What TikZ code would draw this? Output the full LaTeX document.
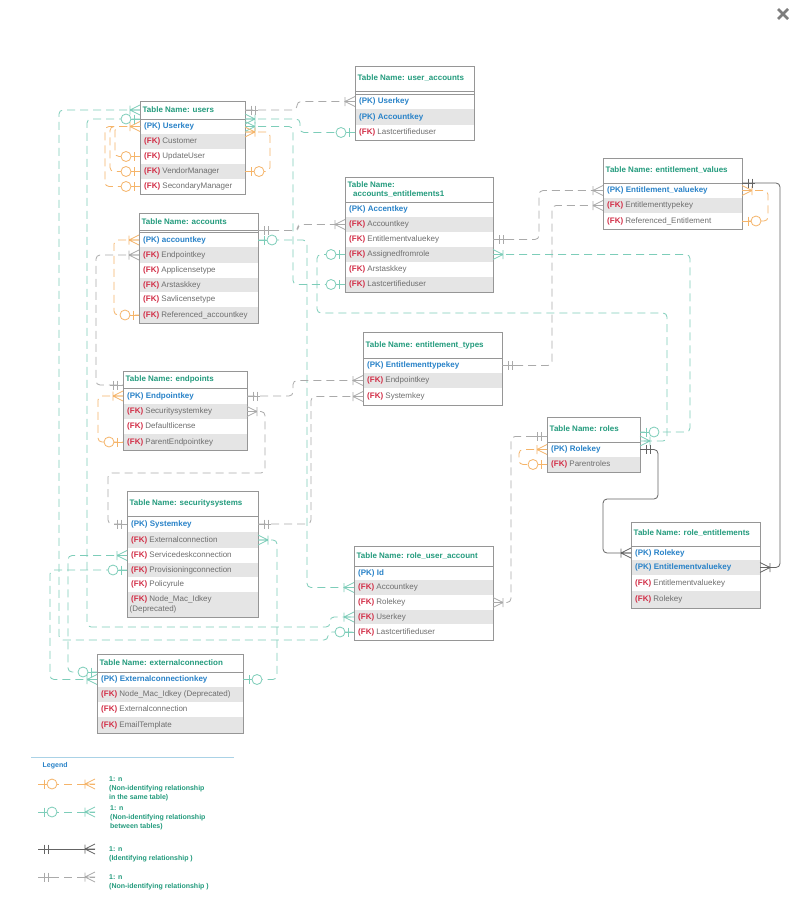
\documentclass[tikz,border=0pt]{standalone}
\usepackage{fontspec}
\setmainfont{Liberation Sans}
\definecolor{ttl}{RGB}{35,155,125}
\definecolor{pkc}{RGB}{40,130,200}
\definecolor{fkc}{RGB}{210,45,70}
\definecolor{txg}{RGB}{110,110,110}
\definecolor{rowg}{RGB}{229,229,229}
\definecolor{boxc}{RGB}{150,150,150}
\definecolor{gln}{RGB}{125,205,185}
\definecolor{oln}{RGB}{245,180,105}
\definecolor{yln}{RGB}{170,170,170}
\definecolor{sln}{RGB}{100,100,100}
\definecolor{lgl}{RGB}{170,210,230}
\definecolor{xgr}{RGB}{125,125,125}
\newcommand\PKt[1]{\textbf{\color{pkc}(PK) #1}}
\newcommand\FKt[1]{\textbf{\color{fkc}(FK)} #1}
\newcommand\erow[7]{%
  \fill[#6] (#2,#4) rectangle (#3,#5);
  \node[rowtxt] (#1) at ({#2+4},{(#4+#5)/2}) {#7};
  \coordinate (#1-L) at (#2,{(#4+#5)/2});
  \coordinate (#1-R) at (#3,{(#4+#5)/2});
}
\newcommand\tbg[4]{\fill[white] (#1,#3) rectangle (#2,#4);}
\newcommand\tbox[5]{\draw[boxl] (#1,#3) rectangle (#2,#5); \draw[boxl] (#1,#4) -- (#2,#4);}
\tikzset{
  boxl/.style={draw=boxc, line width=0.8pt},
  ttltxt/.style={anchor=west, inner sep=0pt, font=\fontsize{8}{9.6}\selectfont\bfseries, text=ttl},
  rowtxt/.style={anchor=west, inner sep=0pt, font=\fontsize{8}{9.6}\selectfont, text=txg, text height=6.3pt, text depth=1.7pt},
  legtxt/.style={anchor=west, inner sep=0pt, font=\fontsize{7}{8.4}\selectfont\bfseries, text=ttl},
  conn/.style={line width=0.8pt, rounded corners=4pt},
  gconn/.style={conn, draw=gln, dash pattern=on 8pt off 5pt},
  oconn/.style={conn, draw=oln, dash pattern=on 8pt off 5pt},
  yconn/.style={conn, draw=yln, dash pattern=on 8pt off 5pt},
  sconn/.style={conn, draw=sln},
  gS/.style={color=gln}, oS/.style={color=oln}, yS/.style={color=yln}, sS/.style={color=sln},
  flipx/.style={xscale=-1},
  crowsym/.pic={\draw[solid, line width=0.8pt] (-10,0) -- (0,-5) (-10,0) -- (0,5) (-10,0) -- (0,0) (-10,-4.5) -- (-10,4.5);},
  onesym/.pic={\draw[solid, line width=0.8pt] (0,0) -- (-13,0) (-6,-4.5) -- (-6,4.5) (-10,-4.5) -- (-10,4.5);},
  zosym/.pic={\draw[solid, line width=0.8pt] (0,0) -- (-9,0) (-6,-4.5) -- (-6,4.5); \draw[solid, line width=0.8pt, fill=white] (-14,0) circle (5pt);},
}
\begin{document}
\begin{tikzpicture}[x=1pt,y=-1pt]
\useasboundingbox (0,0) rectangle (789,900);
\fill[white] (0,0) rectangle (789,900);

% close icon
\draw[xgr, line width=2.6pt] (778,9) -- (788,19) (778,19) -- (788,9);

% ---------------- users
\tbg{140}{245}{101}{194}
\node[ttltxt] (users) at (142.5,110) {Table Name: users};
\erow{U1}{140}{245}{119}{134}{white}{\PKt{Userkey}}
\erow{U2}{140}{245}{134}{149}{rowg}{\FKt{Customer}}
\erow{U3}{140}{245}{149}{164}{white}{\FKt{UpdateUser}}
\erow{U4}{140}{245}{164}{179}{rowg}{\FKt{VendorManager}}
\erow{U5}{140}{245}{179}{194}{white}{\FKt{SecondaryManager}}
\tbox{140}{245}{101}{119}{194}
\coordinate (U-h1L) at (140,110); \coordinate (U-h2L) at (140,119);
\coordinate (U-h1R) at (245,110); \coordinate (U-h2R) at (245,119);
\coordinate (U-oR) at (245,132);

% ---------------- user_accounts
\tbg{355}{474}{66}{140}
\node[ttltxt] (ua) at (357.5,78.5) {Table Name: user\_accounts};
\erow{UA1}{355}{474}{94}{109}{white}{\PKt{Userkey}}
\erow{UA2}{355}{474}{109}{125}{rowg}{\PKt{Accountkey}}
\erow{UA3}{355}{474}{125}{140}{white}{\FKt{Lastcertifieduser}}
\tbox{355}{474}{66}{91}{140}
\draw[boxl] (355,94) -- (474,94);

% ---------------- accounts_entitlements1
\tbg{345}{493}{177}{292}
\node[ttltxt] (ae) at (347.5,184.5) {Table Name:};
\node[ttltxt] (aeb) at (353,194.5) {accounts\_entitlements1};
\erow{AE1}{345}{493}{202}{217}{white}{\PKt{Accentkey}}
\erow{AE2}{345}{493}{217}{232}{rowg}{\FKt{Accountkey}}
\erow{AE3}{345}{493}{232}{247}{white}{\FKt{Entitlementvaluekey}}
\erow{AE4}{345}{493}{247}{262}{rowg}{\FKt{Assignedfromrole}}
\erow{AE5}{345}{493}{262}{277}{white}{\FKt{Arstaskkey}}
\erow{AE6}{345}{493}{277}{292}{rowg}{\FKt{Lastcertifieduser}}
\tbox{345}{493}{177}{202}{292}

% ---------------- entitlement_values
\tbg{603}{742}{158}{229}
\node[ttltxt] (ev) at (605.5,170.5) {Table Name: entitlement\_values};
\erow{EV1}{603}{742}{183}{198}{white}{\PKt{Entitlement\_valuekey}}
\erow{EV2}{603}{742}{198}{213}{rowg}{\FKt{Entitlementtypekey}}
\erow{EV3}{603}{742}{213}{229}{white}{\FKt{Referenced\_Entitlement}}
\tbox{603}{742}{158}{183}{229}
\coordinate (EV-hR) at (742,183);

% ---------------- accounts
\tbg{139}{258}{213}{323}
\node[ttltxt] (acc) at (141.5,222) {Table Name: accounts};
\erow{A1}{139}{258}{233}{247}{white}{\PKt{accountkey}}
\erow{A2}{139}{258}{247}{263}{rowg}{\FKt{Endpointkey}}
\erow{A3}{139}{258}{263}{278}{white}{\FKt{Applicensetype}}
\erow{A4}{139}{258}{278}{292}{rowg}{\FKt{Arstaskkey}}
\erow{A5}{139}{258}{292}{307}{white}{\FKt{Savlicensetype}}
\erow{A6}{139}{258}{307}{323}{rowg}{\FKt{Referenced\_accountkey}}
\tbox{139}{258}{213}{230}{323}
\draw[boxl] (139,232.5) -- (258,232.5);
\coordinate (A-hR) at (258,230.5);

% ---------------- endpoints
\tbg{123}{247}{371}{450}
\node[ttltxt] (ep) at (125.5,379) {Table Name: endpoints};
\erow{EP1}{123}{247}{388}{404}{white}{\PKt{Endpointkey}}
\erow{EP2}{123}{247}{404}{419}{rowg}{\FKt{Securitysystemkey}}
\erow{EP3}{123}{247}{419}{434}{white}{\FKt{Defaultlicense}}
\erow{EP4}{123}{247}{434}{450}{rowg}{\FKt{ParentEndpointkey}}
\tbox{123}{247}{371}{388}{450}
\coordinate (EP-hL) at (123,385);

% ---------------- securitysystems
\tbg{127}{258}{491}{617}
\node[ttltxt] (ss) at (129.5,503) {Table Name: securitysystems};
\erow{SS1}{127}{258}{516}{532}{white}{\PKt{Systemkey}}
\erow{SS2}{127}{258}{532}{548}{rowg}{\FKt{Externalconnection}}
\erow{SS3}{127}{258}{548}{563}{white}{\FKt{Servicedeskconnection}}
\erow{SS4}{127}{258}{563}{577}{rowg}{\FKt{Provisioningconnection}}
\erow{SS5}{127}{258}{577}{592}{white}{\FKt{Policyrule}}
\fill[rowg] (127,592) rectangle (258,617);
\node[rowtxt] (SS6) at (131,599.5) {\FKt{Node\_Mac\_Idkey}};
\node[rowtxt] (SS6b) at (129.5,609) {(Deprecated)};
\tbox{127}{258}{491}{516}{617}

% ---------------- entitlement_types
\tbg{363}{502}{332}{405}
\node[ttltxt] (et) at (365.5,345) {Table Name: entitlement\_types};
\erow{ET1}{363}{502}{358}{373}{white}{\PKt{Entitlementtypekey}}
\erow{ET2}{363}{502}{373}{388}{rowg}{\FKt{Endpointkey}}
\erow{ET3}{363}{502}{388}{405}{white}{\FKt{Systemkey}}
\tbox{363}{502}{332}{358}{405}

% ---------------- roles
\tbg{547}{640}{417}{472}
\node[ttltxt] (ro) at (549.5,428.5) {Table Name: roles};
\erow{R1}{547}{640}{442}{457}{white}{\PKt{Rolekey}}
\erow{R2}{547}{640}{457}{472}{rowg}{\FKt{Parentroles}}
\tbox{547}{640}{417}{442}{472}
\coordinate (R-hL) at (547,436.5);
\coordinate (R-hR1) at (640,432);
\coordinate (R-hR2) at (640,441);

% ---------------- role_entitlements
\tbg{631}{760}{522}{608}
\node[ttltxt] (re) at (633.5,533.5) {Table Name: role\_entitlements};
\erow{RE1}{631}{760}{546}{560}{white}{\PKt{Rolekey}}
\erow{RE2}{631}{760}{560}{575}{rowg}{\PKt{Entitlementvaluekey}}
\erow{RE3}{631}{760}{575}{591}{white}{\FKt{Entitlementvaluekey}}
\erow{RE4}{631}{760}{591}{608}{rowg}{\FKt{Rolekey}}
\tbox{631}{760}{522}{546}{608}

% ---------------- role_user_account
\tbg{354}{493}{546}{640}
\node[ttltxt] (rua) at (356.5,556) {Table Name: role\_user\_account};
\erow{RUA1}{354}{493}{566}{580}{white}{\PKt{Id}}
\erow{RUA2}{354}{493}{580}{595}{rowg}{\FKt{Accountkey}}
\erow{RUA3}{354}{493}{595}{610}{white}{\FKt{Rolekey}}
\erow{RUA4}{354}{493}{610}{624}{rowg}{\FKt{Userkey}}
\erow{RUA5}{354}{493}{624}{640}{white}{\FKt{Lastcertifieduser}}
\tbox{354}{493}{546}{566}{640}

% ---------------- externalconnection
\tbg{97}{243}{654}{733}
\node[ttltxt] (ec) at (99.5,663) {Table Name: externalconnection};
\erow{EC1}{97}{243}{672}{687}{white}{\PKt{Externalconnectionkey}}
\erow{EC2}{97}{243}{687}{702}{rowg}{\FKt{Node\_Mac\_Idkey (Deprecated)}}
\erow{EC3}{97}{243}{702}{717}{white}{\FKt{Externalconnection}}
\erow{EC4}{97}{243}{717}{733}{rowg}{\FKt{EmailTemplate}}
\tbox{97}{243}{654}{672}{733}
\coordinate (EC-hL) at (97,672);

% ================= connectors
\draw[yconn] (U-h1R) -- (297,110) -- (297,101.5) -- (UA1-L);
\draw[gconn] (U-h2R) -- (300,119) -- (300,132.5) -- (UA3-L);
\draw[gconn] (U1-R) -- (293,126.5) -- (293,284.5) -- (AE6-L);
\draw[oconn] (U-oR) -- (270,132) -- (270,171.5) -- (U4-R);
\draw[oconn] (U1-L) -- (105,126.5) -- (105,186.5) -- (U5-L);
\draw[oconn] (U1-L) -- (110,126.5) -- (110,171.5) -- (U4-L);
\draw[oconn] (U1-L) -- (115,126.5) -- (115,156.5) -- (U3-L);
\draw[gconn] (U-h1L) -- (59,110) -- (59,640) -- (328,640) -- (328,632) -- (RUA5-L);
\draw[gconn] (U-h2L) -- (87,119) -- (87,627) -- (330,627) -- (330,617) -- (RUA4-L);
\draw[yconn] (A-hR) -- (298,230.5) -- (298,224.5) -- (AE2-L);
\draw[gconn] (A1-R) -- (307,240) -- (307,587.5) -- (RUA2-L);
\draw[oconn] (A1-L) -- (114,240) -- (114,315) -- (A6-L);
\draw[yconn] (A2-L) -- (96,255) -- (96,385) -- (EP-hL);
\draw[oconn] (EP1-L) -- (98,396) -- (98,442) -- (EP4-L);
\draw[yconn] (EP1-R) -- (293,396) -- (293,380.5) -- (ET2-L);
\draw[yconn] (EP2-R) -- (265,411.5) -- (265,473) -- (108,473) -- (108,524) -- (SS1-L);
\draw[yconn] (SS1-R) -- (311,524) -- (311,396.5) -- (ET3-L);
\draw[gconn] (SS2-R) -- (277,540) -- (277,679.5) -- (EC1-R);
\draw[gconn] (SS3-L) -- (68,555.5) -- (68,672) -- (EC-hL);
\draw[gconn] (SS4-L) -- (50,570) -- (50,679.5) -- (EC1-L);
\draw[yconn] (AE3-R) -- (539,239.5) -- (539,190.5) -- (EV1-L);
\draw[yconn] (ET1-R) -- (552,365.5) -- (552,205.5) -- (EV2-L);
\draw[oconn] (EV1-R) -- (768,190.5) -- (768,221) -- (EV3-R);
\draw[sconn] (EV-hR) -- (780,183) -- (780,567.5) -- (RE2-R);
\draw[gconn] (AE4-R) -- (690,254.5) -- (690,432) -- (R-hR1);
\draw[gconn] (AE4-L) -- (317,254.5) -- (317,313) -- (667,313) -- (667,441) -- (R-hR2);
\draw[sconn] (R1-R) -- (658,449.5) -- (658,499) -- (603,499) -- (603,553) -- (RE1-L);
\draw[oconn] (R1-L) -- (519,449.5) -- (519,464.5) -- (R2-L);
\draw[yconn] (R-hL) -- (511,436.5) -- (511,602.5) -- (RUA3-R);

% ================= end symbols
\pic[yS,flipx] at (U-h1R) {onesym}; \pic[yS] at (UA1-L) {crowsym};
\pic[gS,flipx] at (U-h2R) {crowsym}; \pic[gS] at (UA3-L) {zosym};
\pic[gS,flipx] at (U1-R) {crowsym}; \pic[gS] at (AE6-L) {zosym};
\pic[oS,flipx] at (U-oR) {crowsym}; \pic[oS,flipx] at (U4-R) {zosym};
\pic[oS] at (U1-L) {crowsym}; \pic[oS] at (U3-L) {zosym}; \pic[oS] at (U4-L) {zosym}; \pic[oS] at (U5-L) {zosym};
\pic[gS] at (U-h1L) {crowsym}; \pic[gS] at (RUA5-L) {zosym};
\pic[gS] at (U-h2L) {zosym}; \pic[gS] at (RUA4-L) {crowsym};
\pic[yS,flipx] at (A-hR) {onesym}; \pic[yS] at (AE2-L) {crowsym};
\pic[gS,flipx] at (A1-R) {zosym}; \pic[gS] at (RUA2-L) {crowsym};
\pic[oS] at (A1-L) {crowsym}; \pic[oS] at (A6-L) {zosym};
\pic[yS] at (A2-L) {crowsym}; \pic[yS] at (EP-hL) {onesym};
\pic[oS] at (EP1-L) {crowsym}; \pic[oS] at (EP4-L) {zosym};
\pic[yS,flipx] at (EP1-R) {onesym}; \pic[yS] at (ET2-L) {crowsym};
\pic[yS,flipx] at (EP2-R) {crowsym}; \pic[yS] at (SS1-L) {onesym};
\pic[yS,flipx] at (SS1-R) {onesym}; \pic[yS] at (ET3-L) {crowsym};
\pic[gS,flipx] at (SS2-R) {crowsym}; \pic[gS,flipx] at (EC1-R) {zosym};
\pic[gS] at (SS3-L) {crowsym}; \pic[gS] at (EC-hL) {zosym};
\pic[gS] at (SS4-L) {zosym}; \pic[gS] at (EC1-L) {crowsym};
\pic[yS,flipx] at (AE3-R) {onesym}; \pic[yS] at (EV1-L) {crowsym};
\pic[yS,flipx] at (ET1-R) {onesym}; \pic[yS] at (EV2-L) {crowsym};
\pic[oS,flipx] at (EV1-R) {crowsym}; \pic[oS,flipx] at (EV3-R) {zosym};
\pic[sS,flipx] at (EV-hR) {onesym}; \pic[sS,flipx] at (RE2-R) {crowsym};
\pic[gS,flipx] at (AE4-R) {crowsym}; \pic[gS,flipx] at (R-hR1) {zosym};
\pic[gS] at (AE4-L) {zosym}; \pic[gS,flipx] at (R-hR2) {crowsym};
\pic[sS,flipx] at (R1-R) {onesym}; \pic[sS] at (RE1-L) {crowsym};
\pic[oS] at (R1-L) {crowsym}; \pic[oS] at (R2-L) {zosym};
\pic[yS] at (R-hL) {onesym}; \pic[yS,flipx] at (RUA3-R) {crowsym};

% ================= legend
\draw[lgl, line width=0.8pt] (31,757) -- (234,757);
\node[anchor=west, inner sep=0pt, font=\fontsize{7}{8.4}\selectfont\bfseries, text=pkc] (lgt) at (42.5,765.5) {Legend};
\coordinate (lo1) at (38,784); \coordinate (lo2) at (95,784);
\draw[oconn] (lo1) -- (lo2);
\pic[oS,flipx] at (lo1) {zosym}; \pic[oS] at (lo2) {crowsym};
\node[legtxt] (lo-a) at (109,779.5) {1: n};
\node[legtxt] (lo-b) at (109,788.5) {(Non-identifying relationship};
\node[legtxt] (lo-c) at (109,797.5) {in the same table)};
\coordinate (lg1) at (38,812); \coordinate (lg2) at (95,812);
\draw[gconn] (lg1) -- (lg2);
\pic[gS,flipx] at (lg1) {zosym}; \pic[gS] at (lg2) {crowsym};
\node[legtxt] (lg-a) at (110,808) {1: n};
\node[legtxt] (lg-b) at (110,817.5) {(Non-identifying relationship};
\node[legtxt] (lg-c) at (110,826.5) {between tables)};
\coordinate (ls1) at (38,849); \coordinate (ls2) at (95,849);
\draw[sconn] (ls1) -- (ls2);
\pic[sS,flipx] at (ls1) {onesym}; \pic[sS] at (ls2) {crowsym};
\node[legtxt] (ls-a) at (109,849.5) {1: n};
\node[legtxt] (ls-b) at (109,858.5) {(Identifying relationship )};
\coordinate (ly1) at (38,877); \coordinate (ly2) at (95,877);
\draw[yconn] (ly1) -- (ly2);
\pic[yS,flipx] at (ly1) {onesym}; \pic[yS] at (ly2) {crowsym};
\node[legtxt] (ly-a) at (109,877.5) {1: n};
\node[legtxt] (ly-b) at (109,886.5) {(Non-identifying relationship )};
\end{tikzpicture}
\end{document}
